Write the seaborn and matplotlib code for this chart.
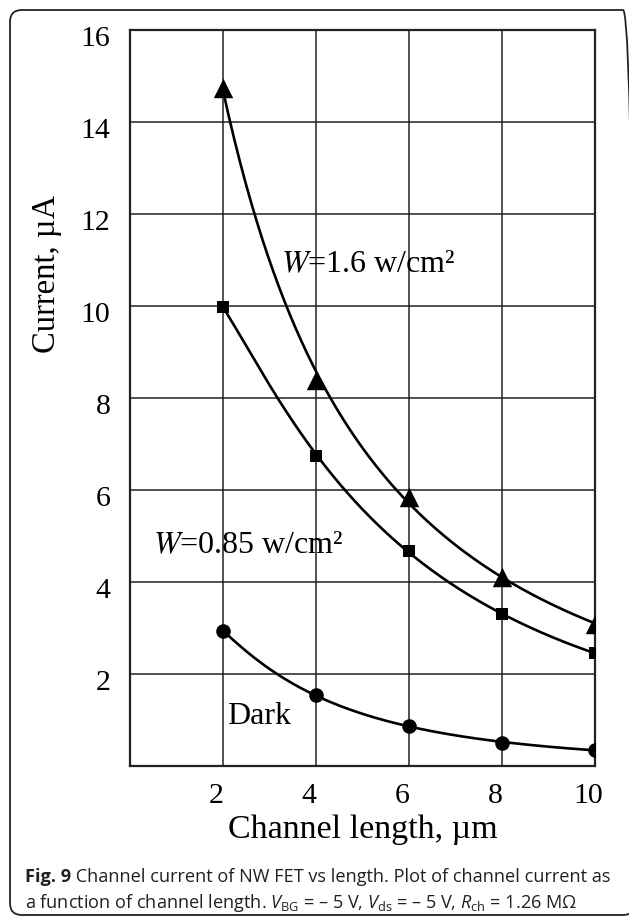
import numpy as np
import pandas as pd
import matplotlib
matplotlib.use("Agg")
import matplotlib.pyplot as plt
from matplotlib.patches import FancyBboxPatch
from matplotlib.transforms import ScaledTranslation
import seaborn as sns

# ---- data ----
length_um = [2, 4, 6, 8, 10]
current_w16 = [14.75, 8.4, 5.85, 4.1, 3.08]    # W = 1.6 w/cm2 (triangles)
current_w085 = [9.98, 6.75, 4.67, 3.3, 2.45]   # W = 0.85 w/cm2 (squares)
current_dark = [2.93, 1.55, 0.87, 0.5, 0.35]   # Dark (circles)
x_ticks = [2, 4, 6, 8, 10]
y_ticks = [2, 4, 6, 8, 10, 12, 14, 16]

sns.set_theme(style="white")
plt.rcParams["font.family"] = ["Liberation Serif", "DejaVu Serif"]
plt.rcParams["mathtext.fontset"] = "custom"
plt.rcParams["mathtext.rm"] = "Open Sans"
plt.rcParams["mathtext.it"] = "Open Sans:italic"
plt.rcParams["mathtext.bf"] = "Open Sans:bold"

fig = plt.figure(figsize=(6.29, 9.23), dpi=100)
ax = fig.add_axes([130 / 629, 1 - 766 / 923, (595 - 130) / 629, (766 - 30) / 923])

series = [
    ("W16", current_w16, "^", 14),
    ("W085", current_w085, "s", 9),
    ("Dark", current_dark, "o", 10.5),
]

for name, vals, mk, ms in series:
    df = pd.DataFrame({"x": length_um, "y": vals})
    # smooth fitted trend (log-log quadratic fit of the data)
    coef = np.polyfit(np.log(df["x"]), np.log(df["y"]), 2)
    xs = np.linspace(min(length_um), max(length_um), 200)
    fit = pd.DataFrame({"x": xs, "y": np.exp(np.polyval(coef, np.log(xs)))})
    sns.lineplot(data=fit, x="x", y="y", ax=ax, color="black", lw=1.9,
                 zorder=3, legend=False)
    sns.scatterplot(data=df, x="x", y="y", ax=ax, marker=mk, s=ms ** 2,
                    color="black", edgecolor="black", linewidth=0, zorder=4,
                    legend=False)

ax.set_xlim(0, 10)
ax.set_ylim(0, 16)
ax.set_xticks(x_ticks)
ax.set_yticks(y_ticks)
ax.set_xticklabels([str(t) for t in x_ticks])
ax.set_yticklabels([str(t) for t in y_ticks])
ax.grid(True, color="#222222", lw=1.1)
ax.set_axisbelow(True)
for sp in ax.spines.values():
    sp.set_color("#222222")
    sp.set_linewidth(1.6)
ax.tick_params(axis="both", length=0, labelsize=21.5, colors="black")
ax.tick_params(axis="x", pad=12)
ax.tick_params(axis="y", pad=14)
for lab in ax.get_xticklabels():
    lab.set_transform(lab.get_transform() + ScaledTranslation(-7 / 100, 0, fig.dpi_scale_trans))
for lab in ax.get_yticklabels():
    lab.set_transform(lab.get_transform() + ScaledTranslation(0, -6 / 100, fig.dpi_scale_trans))
ax.set_xlabel("Channel length, µm", fontsize=24.5, color="black", labelpad=4)
ax.set_ylabel("")
fig.text(47 / 629, 1 - 274 / 923, "Current, µA", rotation=90, fontsize=23.5,
         ha="center", va="center", color="black")

# annotations
ax.text(3.25, 10.9, r"$\it{W}$=1.6 w/cm²", fontsize=23, va="center", ha="left",
        math_fontfamily="stix", color="black")
ax.text(0.5, 4.78, r"$\it{W}$=0.85 w/cm²", fontsize=23, va="center", ha="left",
        math_fontfamily="stix", color="black")
ax.text(2.08, 1.07, "Dark", fontsize=23, va="center", ha="left", color="black")

# caption
cap_kw = dict(fontsize=13.1, family=["Open Sans", "DejaVu Sans"], color="#231f20")
t1 = fig.text(25 / 629, 1 - 877 / 923, "Fig. 9", fontweight="bold", ha="left",
              va="baseline", **cap_kw)
t1.set_y(1 - 882 / 923)
fig.text(0, 0, "", **cap_kw)
ax.annotate(" Channel current of NW FET vs length. Plot of channel current as",
            xy=(1, 0), xycoords=t1, va="bottom", ha="left", annotation_clip=False,
            **cap_kw)
cap2 = (r"a function of channel length. $V_{\mathrm{BG}}$ = – 5 V, $V_{\mathrm{ds}}$ = – 5 V, "
        r"$R_{\mathrm{ch}}$ = 1.26 MΩ")
fig.text(25 / 629, 1 - 908 / 923, cap2, ha="left", va="baseline", **cap_kw)

# rounded border
box = FancyBboxPatch((0.1, 0.08), 6.25, 9.05, boxstyle="round,pad=0,rounding_size=0.12",
                     transform=fig.dpi_scale_trans, fill=False, edgecolor="#222222",
                     lw=1.3, clip_on=False)
fig.patches.append(box)

fig.savefig("out.png", dpi=100, facecolor="white")
